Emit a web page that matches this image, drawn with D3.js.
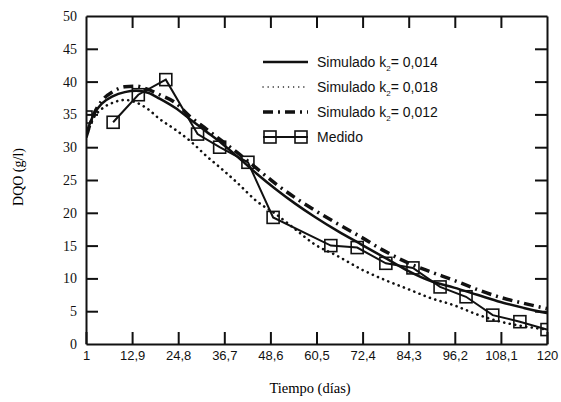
<!DOCTYPE html>
<html>
<head>
<meta charset="utf-8">
<script src="https://cdn.jsdelivr.net/npm/d3@7"></script>
<style>
  body { margin: 0; background: #fff; }
  svg { display: block; }
</style>
</head>
<body>
<div id="chart"></div>
<script>
"use strict"

// tick labels of the x axis (days)
const xTicks = [1, 12.9, 24.8, 36.7, 48.6, 60.5, 72.4, 84.3, 96.2, 108.1, 120];
const yTicks = [0, 5, 10, 15, 20, 25, 30, 35, 40, 45, 50];

// simulated curves, sampled at these days
const simDays = [1, 3, 5, 8, 11, 14, 17, 20, 24, 28, 32, 36, 40, 45, 50, 55, 60, 66, 72, 78, 84, 90, 96, 102, 108, 114, 120];
const sim014 = [32, 35, 36.6, 37.8, 38.4, 38.6, 38.3, 37.4, 36, 34.2, 32.4, 30.6, 28.6, 26.0, 23.6, 21.4, 19.4, 17.2, 15.2, 13.2, 11.2, 9.6, 8.6, 7.5, 6.4, 5.5, 4.7];
const sim018 = [31.5, 34.5, 35.8, 36.8, 37.2, 36.8, 35.8, 34.3, 32.7, 30.9, 28.7, 26.7, 24.6, 21.8, 19.8, 17.5, 15.2, 13.4, 11.4, 9.8, 8.4, 7.0, 5.9, 4.5, 3.4, 2.7, 2.2];
const sim012 = [31.5, 35, 37, 38.5, 39.2, 39.3, 38.8, 38, 36.8, 34.6, 32.8, 31.0, 29.2, 26.8, 24.4, 22.3, 20.4, 18.3, 16.3, 14.2, 12.4, 11.0, 9.7, 8.3, 7.1, 6.2, 5.4];

// measured values
const medDays = [1, 8, 14.5, 21.6, 29.8, 35.5, 42.8, 49.3, 64.2, 71, 78.4, 85.4, 92.4, 99.1, 106, 113, 120];
const medido = [34.6, 33.8, 38, 40.3, 32, 30, 27.7, 19.3, 15, 14.7, 12.3, 11.6, 8.7, 7.2, 4.4, 3.4, 2.2];

const legendLabels = ["Simulado k", "Simulado k", "Simulado k", "Medido"];
const legendValues = ["= 0,014", "= 0,018", "= 0,012", null];

const width = 561, height = 402;
const margin = { top: 16, right: 14, bottom: 58, left: 86 };

const svg = d3.select("#chart").append("svg")
  .attr("width", width)
  .attr("height", height);

const x = d3.scaleLinear().domain([1, 120]).range([margin.left, width - margin.right]);
const y = d3.scaleLinear().domain([0, 50]).range([height - margin.bottom, margin.top]);

svg.append("clipPath").attr("id", "clip")
  .append("rect")
  .attr("x", margin.left).attr("y", margin.top)
  .attr("width", x(120) - x(1)).attr("height", y(0) - y(50));

const plot = svg.append("g").attr("clip-path", "url(#clip)");

const line = d3.line().x(d => x(d[0])).y(d => y(d[1]));
const smooth = d3.line().x(d => x(d[0])).y(d => y(d[1])).curve(d3.curveMonotoneX);

const series = [
  { vals: sim018, width: 2.6, dash: "0.1,5.5", cap: "round" },
  { vals: sim012, width: 3.5, dash: "10,5,2,5", cap: "butt" },
  { vals: sim014, width: 2.5, dash: null, cap: "butt" }
];

series.forEach(s => {
  plot.append("path")
    .datum(simDays.map((d, i) => [d, s.vals[i]]))
    .attr("d", smooth)
    .attr("fill", "none")
    .attr("stroke", "#111")
    .attr("stroke-width", s.width)
    .attr("stroke-dasharray", s.dash)
    .attr("stroke-linecap", s.cap);
});

const med = medDays.map((d, i) => [d, medido[i]]);
plot.append("path")
  .datum(med.slice(1))
  .attr("d", line)
  .attr("fill", "none")
  .attr("stroke", "#111")
  .attr("stroke-width", 2);

const sq = 12;
plot.selectAll("rect.med")
  .data(med)
  .join("rect")
  .attr("class", "med")
  .attr("x", d => x(d[0]) - sq / 2)
  .attr("y", d => y(d[1]) - sq / 2)
  .attr("width", sq).attr("height", sq)
  .attr("fill", "none")
  .attr("stroke", "#111")
  .attr("stroke-width", 1.6);

// axes: ticks point inward on all four sides
const tk = 12;
svg.append("g")
  .attr("transform", `translate(0,${y(0)})`)
  .call(d3.axisBottom(x).tickValues(xTicks).tickSizeInner(-tk).tickSizeOuter(0).tickPadding(7)
    .tickFormat(d => String(d).replace(".", ",")))
  .call(g => g.selectAll("text").attr("font-family", "Liberation Sans, Arial, sans-serif").attr("font-size", 13).attr("fill", "#111"));

svg.append("g")
  .attr("transform", `translate(0,${y(50)})`)
  .call(d3.axisTop(x).tickValues(xTicks.slice(1, -1)).tickSizeInner(-tk).tickSizeOuter(0).tickFormat(""));

svg.append("g")
  .attr("transform", `translate(${x(1)},0)`)
  .call(d3.axisLeft(y).tickValues(yTicks).tickSizeInner(-tk).tickSizeOuter(0).tickPadding(9))
  .call(g => g.selectAll("text").attr("font-family", "Liberation Serif, Times New Roman, serif").attr("font-size", 14).attr("fill", "#111"))
  .call(g => g.selectAll(".tick line").filter(d => d === 0 || d === 50).remove());

svg.append("g")
  .attr("transform", `translate(${x(120)},0)`)
  .call(d3.axisRight(y).tickValues(yTicks.slice(1, -1)).tickSizeInner(-tk).tickSizeOuter(0).tickFormat(""));

svg.selectAll(".domain").attr("stroke", "#111").attr("stroke-width", 2);
svg.selectAll(".tick line").attr("stroke", "#111").attr("stroke-width", 2);

// axis titles
svg.append("text")
  .attr("x", 310).attr("y", 393)
  .attr("text-anchor", "middle")
  .attr("font-family", "Liberation Serif, Times New Roman, serif")
  .attr("font-size", 14.5)
  .text("Tiempo (días)");

svg.append("text")
  .attr("transform", "translate(23,177) rotate(-90)")
  .attr("text-anchor", "middle")
  .attr("font-family", "Liberation Serif, Times New Roman, serif")
  .attr("font-size", 14)
  .text("DQO (g/l)");

// legend
const legY = [62, 87, 112, 137];
const leg = svg.append("g").attr("font-family", "Liberation Sans, Arial, sans-serif").attr("font-size", 14).attr("fill", "#111");
const lx0 = 263, lx1 = 308;
const legSeries = [series[2], { width: 1.4, dash: "0.1,5", cap: "round" }, series[1]];
legSeries.forEach((s, i) => {
  leg.append("line")
    .attr("x1", lx0).attr("x2", lx1).attr("y1", legY[i]).attr("y2", legY[i])
    .attr("stroke", "#111").attr("stroke-width", s.width)
    .attr("stroke-dasharray", s.dash).attr("stroke-linecap", s.cap);
});
leg.append("line")
  .attr("x1", lx0).attr("x2", lx1).attr("y1", legY[3]).attr("y2", legY[3])
  .attr("stroke", "#111").attr("stroke-width", 2);
[lx0 + 7, lx1 - 7].forEach(cx => {
  leg.append("rect")
    .attr("x", cx - sq / 2).attr("y", legY[3] - sq / 2)
    .attr("width", sq).attr("height", sq)
    .attr("fill", "none").attr("stroke", "#111").attr("stroke-width", 1.6);
});
legendLabels.forEach((lab, i) => {
  const t = leg.append("text").attr("x", 317).attr("y", legY[i] + 5).text(lab);
  if (legendValues[i]) {
    t.append("tspan").attr("font-size", 8).attr("dy", 4).text("2");
    t.append("tspan").attr("dy", -4).text(legendValues[i]);
  }
});
</script>
</body>
</html>
